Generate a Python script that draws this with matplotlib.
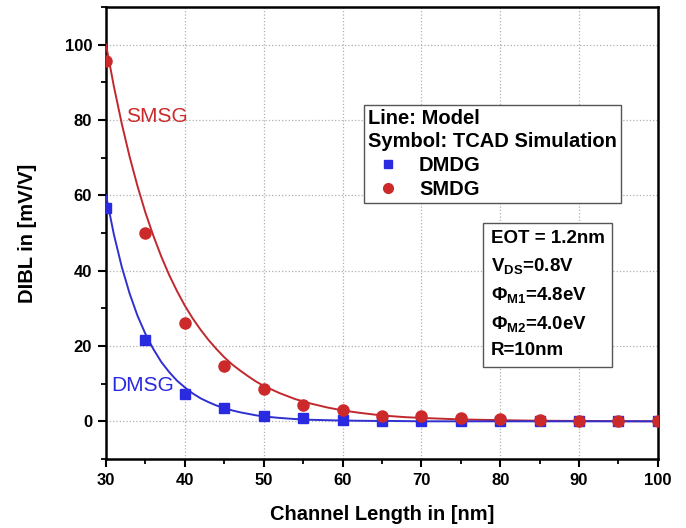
import matplotlib
matplotlib.use("Agg")
import matplotlib.pyplot as plt
from matplotlib.ticker import MultipleLocator
from matplotlib.lines import Line2D

plt.rcParams['font.family'] = ['Liberation Sans', 'DejaVu Sans']
plt.rcParams['mathtext.fontset'] = 'custom'
plt.rcParams['mathtext.bf'] = 'Liberation Sans:bold'
plt.rcParams['mathtext.rm'] = 'Liberation Sans:bold'
plt.rcParams['mathtext.default'] = 'bf'

# Model curves
model_L = [30, 31, 32, 33, 34, 35, 36, 37, 38, 39, 40, 41, 42, 43, 44, 45, 46, 47, 48, 49,
           50, 52, 54, 56, 58, 60, 62, 64, 66, 68, 70, 75, 80, 85, 90, 100]
smsg_model = [100, 88.9, 79.0, 70.2, 62.4, 55.4, 49.3, 43.8, 38.9, 34.6, 30.7, 27.3, 24.3,
              21.6, 19.2, 17.0, 15.1, 13.5, 12.0, 10.6, 9.4, 7.5, 5.9, 4.7, 3.7, 2.9, 2.3,
              1.8, 1.4, 1.1, 0.9, 0.5, 0.3, 0.15, 0.1, 0.0]
dmsg_model = [60, 49.6, 41.0, 33.9, 28.0, 23.2, 19.2, 15.8, 13.1, 10.8, 9.0, 7.4, 6.1, 5.1,
              4.2, 3.5, 2.9, 2.4, 2.0, 1.6, 1.3, 0.9, 0.6, 0.4, 0.3, 0.2, 0.15, 0.1, 0.1,
              0.05, 0.0, 0.0, 0.0, 0.0, 0.0, 0.0]

# TCAD points
tcad_L = [30, 35, 40, 45, 50, 55, 60, 65, 70, 75, 80, 85, 90, 95, 100]
smdg_tcad = [95.5, 50.0, 26.0, 14.7, 8.6, 4.4, 3.1, 1.5, 1.3, 0.8, 0.5, 0.3, 0.2, 0.1, 0.1]
dmdg_tcad = [56.5, 21.5, 7.3, 3.6, 1.3, 0.8, 0.3, 0.1, 0.1, 0.1, 0.1, 0.1, 0.1, 0.1, 0.1]

red = '#cc2a2a'
blue = '#2a2ae0'

fig = plt.figure(figsize=(6.86, 5.28), dpi=100)
ax = fig.add_axes([0.1545, 0.1307, 0.8045, 0.8563])

ax.plot(model_L, smsg_model, color='#c0282d', lw=1.4, zorder=3)
ax.plot(model_L, dmsg_model, color='#3030d0', lw=1.4, zorder=3)
ax.plot(tcad_L, dmdg_tcad, ls='none', marker='s', ms=7, color=blue, zorder=4)
ax.plot(tcad_L, smdg_tcad, ls='none', marker='o', ms=8, color=red, zorder=5)

ax.set_xlim(30, 100)
ax.set_ylim(-10, 110)
ax.set_xticks([30, 40, 50, 60, 70, 80, 90, 100])
ax.set_yticks([0, 20, 40, 60, 80, 100])
ax.xaxis.set_minor_locator(MultipleLocator(5))
ax.yaxis.set_minor_locator(MultipleLocator(10))
ax.tick_params(which='major', direction='out', length=6, width=1.5, labelsize=12, pad=4)
ax.tick_params(which='minor', direction='out', length=3.5, width=1.3)
for lab in ax.get_xticklabels() + ax.get_yticklabels():
    lab.set_fontweight('bold')
for s in ax.spines.values():
    s.set_linewidth(1.8)
ax.grid(True, which='major', ls=':', color='#b0b0b0', lw=0.9)

ax.set_xlabel('Channel Length in [nm]', fontsize=14.5, fontweight='bold', labelpad=12)
ax.set_ylabel('DIBL in [mV/V]', fontsize=14.5, fontweight='bold', labelpad=20)

ax.text(36.5, 81, 'SMSG', color=red, fontsize=15, ha='center', va='center')
ax.text(34.6, 9.5, 'DMSG', color=blue, fontsize=15, ha='center', va='center')

handles = [Line2D([], [], ls='none', marker='s', ms=6, color=blue),
           Line2D([], [], ls='none', marker='o', ms=7, color=red)]
leg = ax.legend(handles, ['DMDG', 'SMDG'], title='Line: Model\nSymbol: TCAD Simulation',
                loc='upper left', bbox_to_anchor=(0.467, 0.783), fancybox=False,
                edgecolor='#555555', framealpha=1, prop={'weight': 'bold', 'size': 14.5},
                title_fontproperties={'weight': 'bold', 'size': 14.5}, alignment='left',
                borderpad=0.2, labelspacing=0.25, handletextpad=0.55, handlelength=2.0,
                borderaxespad=0)
leg.get_frame().set_linewidth(1.0)
leg.get_title().set_linespacing(1.25)

ax.text(0.697, 0.5055, 'EOT = 1.2nm\nV$_{DS}$=0.8V\n\u03a6$_{M1}$=4.8eV\n\u03a6$_{M2}$=4.0eV\nR=10nm',
        transform=ax.transAxes, fontsize=13.5, fontweight='bold', va='top', ha='left',
        linespacing=1.6,
        bbox=dict(boxstyle='square,pad=0.4', fc='white', ec='#555555', lw=1.0))

fig.savefig('out.png', dpi=100)
